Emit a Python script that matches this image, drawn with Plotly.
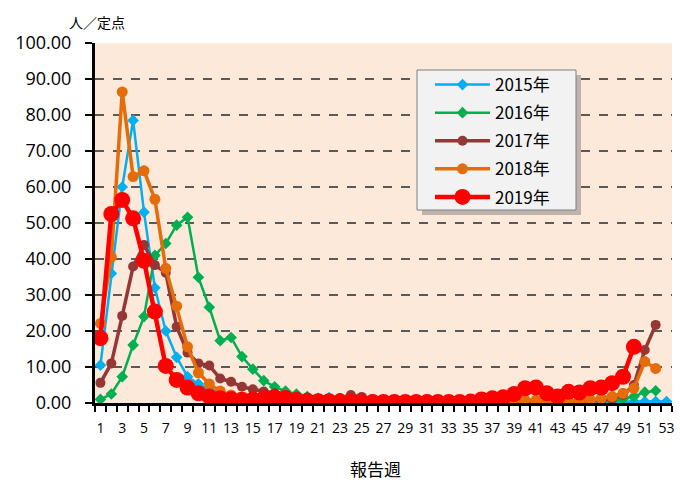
import plotly.graph_objects as go

series_names = ["2015年", "2016年", "2017年", "2018年", "2019年"]

v2015 = [10.5, 36, 60, 78.5, 53, 32, 20, 12.7, 7.3, 5.3,
         3.5, 2.5, 1.8, 1.3, 1.0, 0.8, 0.6, 0.5, 0.4, 0.4,
         0.5, 1.5, 0.8, 0.4, 0.3, 0.2, 0.2, 0.1, 0.1, 0.1,
         0.1, 0.1, 0.1, 0.1, 0.1, 0.1, 0.1, 0.1, 0.1, 0.1,
         0.1, 0.1, 0.1, 0.1, 0.1, 0.2, 0.2, 0.3, 0.3, 0.4,
         0.4, 0.4, 0.4]
v2016 = [1.0, 2.5, 7.3, 16.1, 24, 41, 44.3, 49.4, 51.6, 34.9,
         26.6, 17.3, 18.2, 12.9, 9.4, 6.2, 4.5, 3.3, 2.5, 1.8,
         1.3, 1.0, 0.8, 0.6, 0.5, 0.4, 0.3, 0.3, 0.2, 0.2,
         0.2, 0.1, 0.1, 0.1, 0.1, 0.1, 0.1, 0.1, 0.1, 0.2,
         0.2, 0.2, 0.2, 0.3, 0.3, 0.4, 0.5, 0.7, 1.1, 1.8,
         3.0, 3.4]
v2017 = [5.6, 11, 24.2, 37.9, 43.9, 38.3, 36.2, 21.2, 14, 11,
         10.4, 6.8, 5.9, 4.5, 3.8, 3.2, 2.7, 2.2, 1.8, 1.5,
         1.2, 1.0, 1.4, 2.2, 1.7, 1.0, 0.7, 0.5, 0.4, 0.3,
         0.3, 0.2, 0.2, 0.2, 0.2, 0.2, 0.2, 0.2, 0.3, 0.3,
         0.3, 0.3, 0.4, 0.5, 0.5, 0.6, 0.8, 1.2, 2.2, 5.0,
         14.7, 21.7]
v2018 = [22.1, 40.5, 86.4, 62.9, 64.5, 56.6, 37.4, 26.9, 15.6, 8.4,
         5.3, 3.3, 2.2, 1.6, 1.2, 0.9, 0.7, 0.6, 0.5, 0.4,
         0.4, 0.3, 0.3, 0.3, 0.2, 0.2, 0.2, 0.2, 0.2, 0.2,
         0.2, 0.2, 0.2, 0.2, 0.2, 0.2, 0.3, 0.3, 0.4, 0.8,
         0.8, 0.1, 0.3, 0.4, 0.4, 0.8, 1.3, 1.8, 2.7, 4.1,
         11.5, 9.6]
v2019 = [18, 52.5, 56.4, 51.3, 39.5, 25.4, 10.3, 6.4, 4.3, 2.7,
         1.8, 1.3, 1.1, 0.9, 1.0, 1.3, 1.6, 1.4, 0.8, 0.6,
         0.5, 0.5, 0.4, 0.4, 0.3, 0.3, 0.3, 0.3, 0.3, 0.3,
         0.3, 0.3, 0.3, 0.3, 0.4, 1.0, 1.3, 1.6, 2.5, 4.1,
         4.3, 2.7, 1.8, 3.1, 2.9, 4.1, 4.3, 5.5, 7.3, 15.6]

week_labels = [str(w) for w in range(1, 54, 2)]
y_ticks = list(range(0, 101, 10))

styles = [
    dict(color="#00B0F0", symbol="diamond", size=9, width=2.5),
    dict(color="#00B050", symbol="diamond", size=9, width=2.5),
    dict(color="#953735", symbol="circle", size=10, width=3.5),
    dict(color="#E46C0A", symbol="circle", size=11, width=3.5),
    dict(color="#FF0000", symbol="circle", size=16, width=4.5),
]

fig = go.Figure()
for name, vals, st in zip(series_names, [v2015, v2016, v2017, v2018, v2019], styles):
    fig.add_trace(go.Scatter(
        x=list(range(1, len(vals) + 1)), y=vals, name=name, mode="lines+markers",
        line=dict(color=st["color"], width=st["width"]),
        marker=dict(color=st["color"], symbol=st["symbol"], size=st["size"]),
        legendgroup=name,
    ))

# plot area in pixels: x 95..672, y 43..403
PW, PH = 577.0, 360.0
def px(x):
    return (x - 95) / PW
def py(y):
    return (403 - y) / PH

font_main = "Open Sans, Noto Sans CJK JP, sans-serif"
fig.update_layout(
    width=680, height=480,
    margin=dict(l=95, r=8, t=43, b=77, autoexpand=False),
    paper_bgcolor="white",
    plot_bgcolor="#FCE9DA",
    font=dict(family=font_main, color="black"),
    showlegend=True,
    legend=dict(
        x=px(430), y=py(67), xanchor="left", yanchor="top",
        bgcolor="rgba(0,0,0,0)", borderwidth=0,
        font=dict(size=17, family="Noto Sans CJK JP, sans-serif"),
        itemwidth=55, tracegroupgap=3,
    ),
    xaxis=dict(
        range=[0.5, 53.5], automargin=False,
        tickmode="array", tickvals=list(range(1, 54, 2)), ticktext=week_labels,
        ticks="", showgrid=False, zeroline=False,
        showline=True, linecolor="black", linewidth=3,
        tickfont=dict(size=14), ticklabelstandoff=10,
        minor=dict(tickmode="linear", tick0=0.5, dtick=1, ticks="outside",
                   ticklen=6, tickwidth=2, tickcolor="black", showgrid=False),
    ),
    yaxis=dict(
        range=[0, 100], automargin=False, tickmode="array", tickvals=y_ticks,
        tickformat=".2f", ticks="outside", ticklen=7, tickwidth=2, tickcolor="black",
        showline=True, linecolor="black", linewidth=3,
        showgrid=True, gridcolor="#595959", griddash="dash", gridwidth=1.5,
        zeroline=False, tickfont=dict(size=18), ticklabelstandoff=10,
    ),
    shapes=[
        dict(type="rect", xref="paper", yref="paper",
             x0=px(422), x1=px(581), y0=py(215), y1=py(75),
             fillcolor="#808080", opacity=0.5, line=dict(width=0), layer="above"),
        dict(type="rect", xref="paper", yref="paper",
             x0=px(417), x1=px(576), y0=py(210), y1=py(70),
             fillcolor="#F2F2F2", line=dict(color="#7F7F7F", width=1), layer="above"),
    ],
    annotations=[
        dict(text="人／定点", xref="paper", yref="paper", x=px(97), y=1.0,
             yshift=9, xanchor="center", yanchor="bottom", showarrow=False,
             font=dict(size=14, family="Noto Sans CJK JP, sans-serif")),
        dict(text="報告週", xref="paper", yref="paper", x=px(375), y=0,
             yshift=-51, xanchor="center", yanchor="top", showarrow=False,
             font=dict(size=17, family="Noto Sans CJK JP, sans-serif")),
    ],
)

fig.write_html("out.html", config={"displayModeBar": False},
               post_script="document.body.style.margin='0';document.body.style.overflow='hidden';")
